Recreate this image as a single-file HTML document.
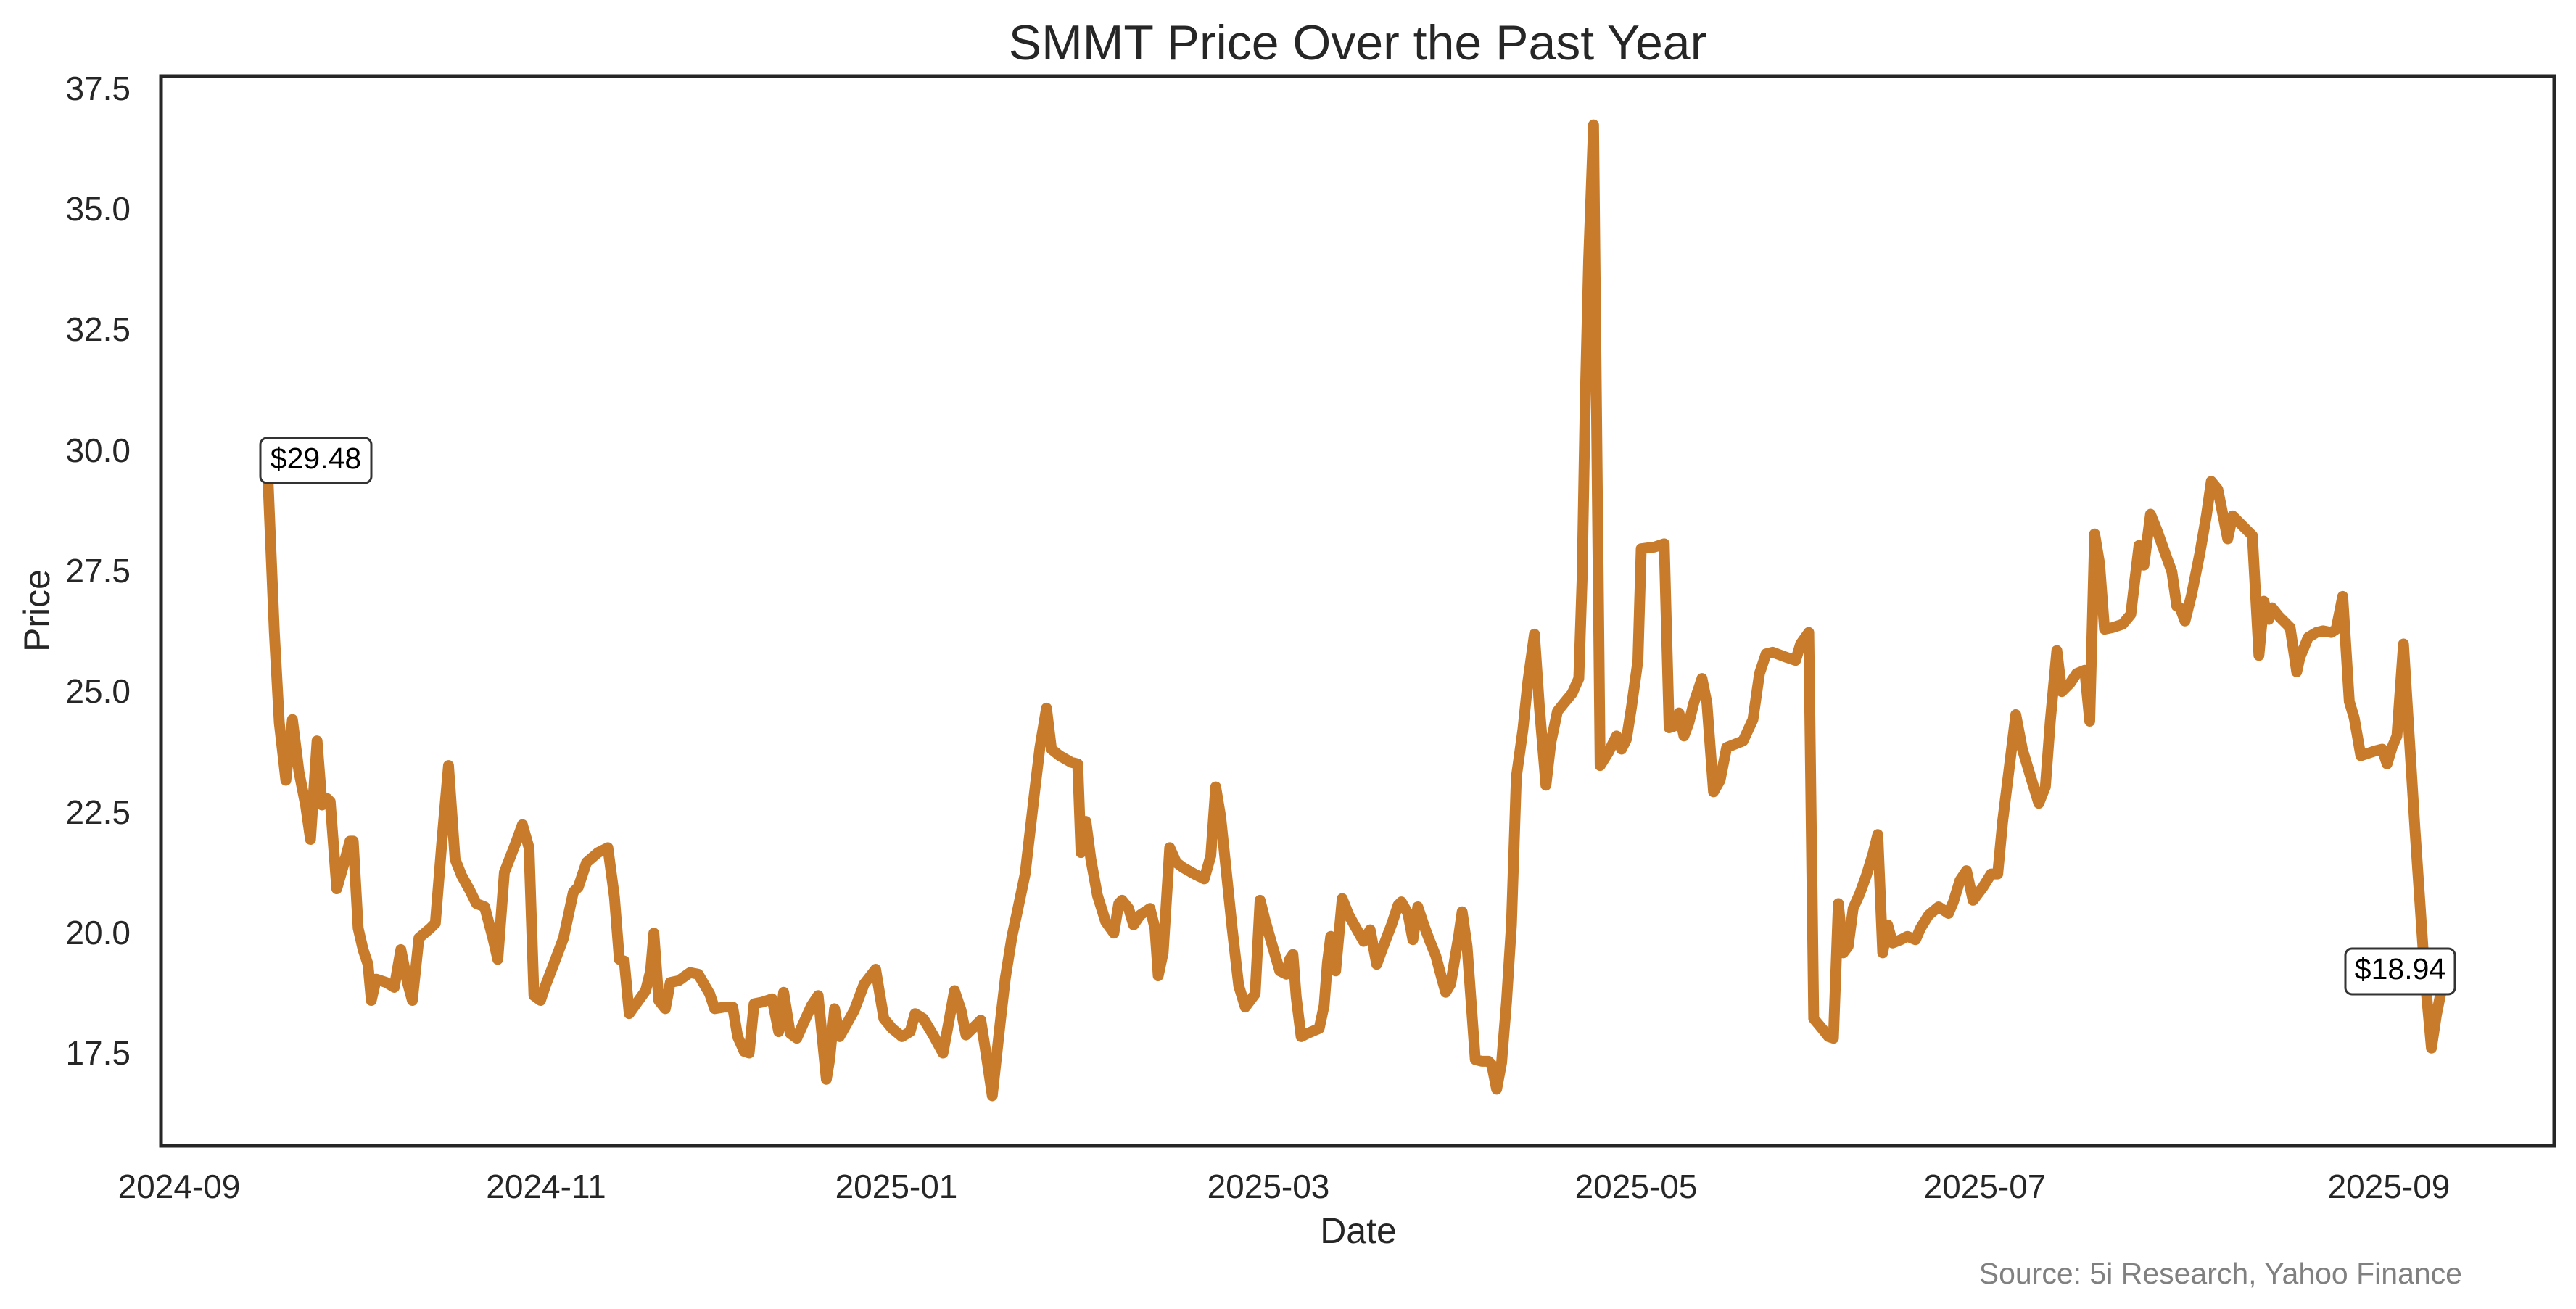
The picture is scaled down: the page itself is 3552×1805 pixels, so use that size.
<!DOCTYPE html>
<html><head><meta charset="utf-8"><style>html,body{margin:0;padding:0;background:#fff}svg{display:block}</style></head>
<body>
<svg width="3552" height="1805" viewBox="0 0 3552 1805" xmlns="http://www.w3.org/2000/svg" font-family="Liberation Sans, Arial, sans-serif">
<rect width="3552" height="1805" fill="#fff"/>
<text x="1872" y="82" font-size="68" text-anchor="middle" fill="#262626">SMMT Price Over the Past Year</text>
<g transform="scale(2.2653)">
<polyline fill="none" stroke="#c77b2b" stroke-width="6.6" stroke-linejoin="round" stroke-linecap="round" points="163,289 167,385 170,440 174,475 178,438 182,470 186,490 189,511 193,451 196,490 199,486 201,488 205,541 209,527 213,512 215,512 218,565 221,578 224,587 226,609 229,596 235,598 240,601 244,578 248,598 251,609 255,571 262,565 265,562 269,512 273,466 277,523 281,533 286,542 290,550 295,552 300,571 303,584 307,531 314,513 318,502 322,516 325,606 329,609 332,600 337,587 343,571 349,543 352,540 357,525 364,519 370,516 374,546 377,584 380,585 383,617 388,610 393,603 396,591 398,568 401,609 405,614 408,598 413,597 420,592 425,593 432,605 435,614 441,613 446,613 449,631 453,640 456,641 459,611 464,610 470,608 474,628 477,604 481,629 485,632 489,623 494,612 498,606 503,657 505,645 508,614 511,631 515,624 520,615 526,599 533,590 538,620 543,626 549,631 554,628 557,617 562,620 568,630 574,641 577,625 581,603 585,615 588,630 593,625 597,621 600,640 604,667 609,621 612,595 616,570 619,556 624,532 627,506 630,480 633,455 637,431 640,456 645,460 652,464 656,465 658,519 661,500 664,523 668,545 673,561 678,568 681,550 683,548 687,553 690,563 694,557 700,553 703,565 705,594 708,580 712,516 716,525 720,528 727,532 733,535 737,521 740,479 743,497 746,526 750,565 754,600 758,613 764,605 767,548 770,560 774,574 779,591 783,593 785,584 787,581 789,607 792,631 796,629 803,626 806,612 808,586 810,570 813,591 817,547 821,557 826,566 830,573 834,566 838,587 842,576 847,563 851,551 853,549 857,556 860,572 863,552 867,564 870,572 874,582 878,597 880,604 883,599 888,569 890,555 893,576 898,645 902,646 906,646 908,648 911,663 914,647 917,610 920,563 923,473 927,444 930,415 934,386 937,430 941,478 944,452 948,433 952,428 957,422 961,413 963,353 965,241 967,158 970,76 974,466 979,458 984,448 987,456 990,450 993,431 997,402 999,334 1007,333 1013,331 1016,443 1019,442 1022,434 1025,448 1028,440 1031,428 1036,413 1039,428 1043,482 1047,475 1051,455 1056,453 1061,451 1067,438 1071,410 1075,398 1079,397 1087,400 1093,402 1096,392 1101,385 1104,620 1109,626 1113,631 1116,632 1119,550 1122,580 1125,576 1128,553 1132,544 1136,533 1140,520 1143,508 1146,580 1149,563 1152,574 1157,572 1161,570 1166,572 1169,565 1174,557 1180,552 1186,556 1189,549 1193,536 1197,530 1201,548 1207,540 1212,532 1216,532 1219,500 1227,435 1231,456 1237,476 1241,489 1245,479 1248,439 1252,396 1255,421 1260,416 1264,410 1269,408 1272,439 1275,325 1278,343 1281,383 1286,382 1292,380 1297,374 1302,332 1305,344 1309,313 1313,323 1318,337 1322,348 1325,369 1327,370 1330,378 1334,362 1339,337 1343,314 1346,293 1350,298 1356,328 1359,314 1364,319 1371,326 1375,399 1378,366 1381,377 1383,370 1387,375 1394,382 1398,409 1400,400 1405,388 1410,385 1414,384 1419,385 1422,383 1426,363 1430,427 1433,437 1437,460 1440,459 1446,457 1450,456 1453,465 1456,455 1459,448 1463,392 1470,505 1476,594 1480,638 1483,618 1486,603"/>
</g>
<rect x="222" y="105" width="3300" height="1475" fill="none" stroke="#262626" stroke-width="5"/>
<g font-size="46" fill="#262626" text-anchor="end">
<text x="180" y="1468">17.5</text>
<text x="180" y="1302">20.0</text>
<text x="180" y="1136">22.5</text>
<text x="180" y="969">25.0</text>
<text x="180" y="803">27.5</text>
<text x="180" y="637">30.0</text>
<text x="180" y="470">32.5</text>
<text x="180" y="304">35.0</text>
<text x="180" y="138">37.5</text>
</g>
<g font-size="46" fill="#262626" text-anchor="middle">
<text x="247" y="1652">2024-09</text>
<text x="753" y="1652">2024-11</text>
<text x="1236" y="1652">2025-01</text>
<text x="1749" y="1652">2025-03</text>
<text x="2256" y="1652">2025-05</text>
<text x="2737" y="1652">2025-07</text>
<text x="3294" y="1652">2025-09</text>
</g>
<text x="1873" y="1714" font-size="50" text-anchor="middle" fill="#262626">Date</text>
<text transform="translate(68,842) rotate(-90)" font-size="50" text-anchor="middle" fill="#262626">Price</text>
<rect x="359" y="604" width="153" height="62" rx="9" fill="#fff" stroke="#333" stroke-width="3"/>
<text x="435.5" y="646" font-size="41" text-anchor="middle" fill="#000">$29.48</text>
<rect x="3234" y="1308" width="151" height="63" rx="9" fill="#fff" stroke="#333" stroke-width="3"/>
<text x="3309.5" y="1350" font-size="41" text-anchor="middle" fill="#000">$18.94</text>
<text x="3395" y="1770" font-size="41" text-anchor="end" fill="#808080">Source: 5i Research, Yahoo Finance</text>
</svg>
</body></html>
